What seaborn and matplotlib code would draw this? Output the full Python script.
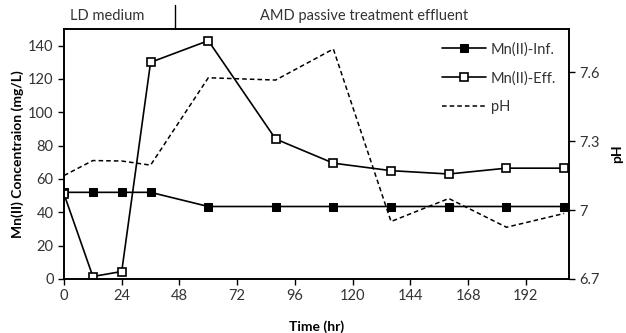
import matplotlib
matplotlib.use("Agg")
import matplotlib.pyplot as plt
import seaborn as sns
import pandas as pd

time_hr = [0, 12, 24, 36, 60, 88, 112, 136, 160, 184, 208]
mn_inf = [52, 52, 52, 52, 43.5, 43.5, 43.5, 43.5, 43.5, 43.5, 43.5]
mn_eff = [51, 1.5, 4.5, 130, 143, 84, 69.5, 65, 63, 66.5, 66.5]
ph = [7.15, 7.215, 7.213, 7.195, 7.575, 7.565, 7.70, 6.95, 7.05, 6.925, 6.985]
x_ticks = [0, 24, 48, 72, 96, 120, 144, 168, 192]
y_ticks = [0, 20, 40, 60, 80, 100, 120, 140]
ph_ticks = [6.7, 7, 7.3, 7.6]
ph_tick_labels = ["6.7", "7", "7.3", "7.6"]

df = pd.DataFrame({"t": time_hr, "inf": mn_inf, "eff": mn_eff, "ph": ph})

sns.set_style("white")
plt.rcParams["font.family"] = ["Lato", "DejaVu Sans"]

fig = plt.figure(figsize=(6.26, 3.33), dpi=100)
ax = fig.add_axes([64 / 626, 1 - 279 / 333, (569 - 64) / 626, (279 - 29) / 333])
ax2 = ax.twinx()

c = "#333333"
sns.lineplot(data=df, x="t", y="inf", ax=ax, color="black", lw=1.2, marker="s",
             markersize=5.5, markerfacecolor="black", markeredgecolor="black",
             label="Mn(II)-Inf.", legend=False)
sns.lineplot(data=df, x="t", y="eff", ax=ax, color="black", lw=1.2, marker="s",
             markersize=5.5, markerfacecolor="white", markeredgecolor="black",
             markeredgewidth=1.2, label="Mn(II)-Eff.", legend=False)
sns.lineplot(data=df, x="t", y="ph", ax=ax2, color="black", lw=1.1,
             linestyle=(0, (3, 2)), label="pH", legend=False)

ax.set_xlim(0, 210)
ax.set_ylim(0, 150)
ax2.set_ylim(6.7, 7.787)
ax.set_xticks(x_ticks)
ax.set_yticks(y_ticks)
ax2.set_yticks(ph_ticks)
ax2.set_yticklabels(ph_tick_labels)

for a in (ax, ax2):
    for s in a.spines.values():
        s.set_color("black")
        s.set_linewidth(1.2)
    a.tick_params(direction="out", length=4, width=1, color="black",
                  labelsize=10.5, labelcolor=c)
ax.tick_params(axis="both", which="both", bottom=True, left=True)
ax2.tick_params(axis="y", right=True)

ax.set_xlabel("Time (hr)", fontsize=10, fontweight="bold", color="black")
ax.xaxis.set_label_coords(0.5, -0.165)
ax.set_ylabel("Mn(II) Concentraion (mg/L)", fontsize=10, fontweight="bold",
              color="black", va="center")
ax.yaxis.set_label_coords(-0.092, 0.5)
ax2.set_ylabel("pH", fontsize=10, fontweight="bold", color="black",
               va="center", rotation=90)
ax2.yaxis.set_label_coords(1.095, 0.5)

h1, l1 = ax.get_legend_handles_labels()
h2, l2 = ax2.get_legend_handles_labels()
leg = ax.legend(h1 + h2, l1 + l2, loc="upper right", frameon=False, fontsize=10.5,
                handlelength=3.0, handletextpad=0.3, labelspacing=1.0,
                bbox_to_anchor=(1.0, 1.0), labelcolor=c)

# Top annotation
fig.text(70 / 626, 1 - 16 / 333, "LD medium", fontsize=10.5, color=c, va="center", ha="left")
fig.text(260 / 626, 1 - 16 / 333, "AMD passive treatment effluent", fontsize=10.5,
         color=c, va="center", ha="left")
fig.add_artist(plt.Line2D([175 / 626, 175 / 626], [1 - 29 / 333, 1 - 5 / 333],
                          color="black", lw=1, transform=fig.transFigure))

fig.savefig("out.png", dpi=100)
